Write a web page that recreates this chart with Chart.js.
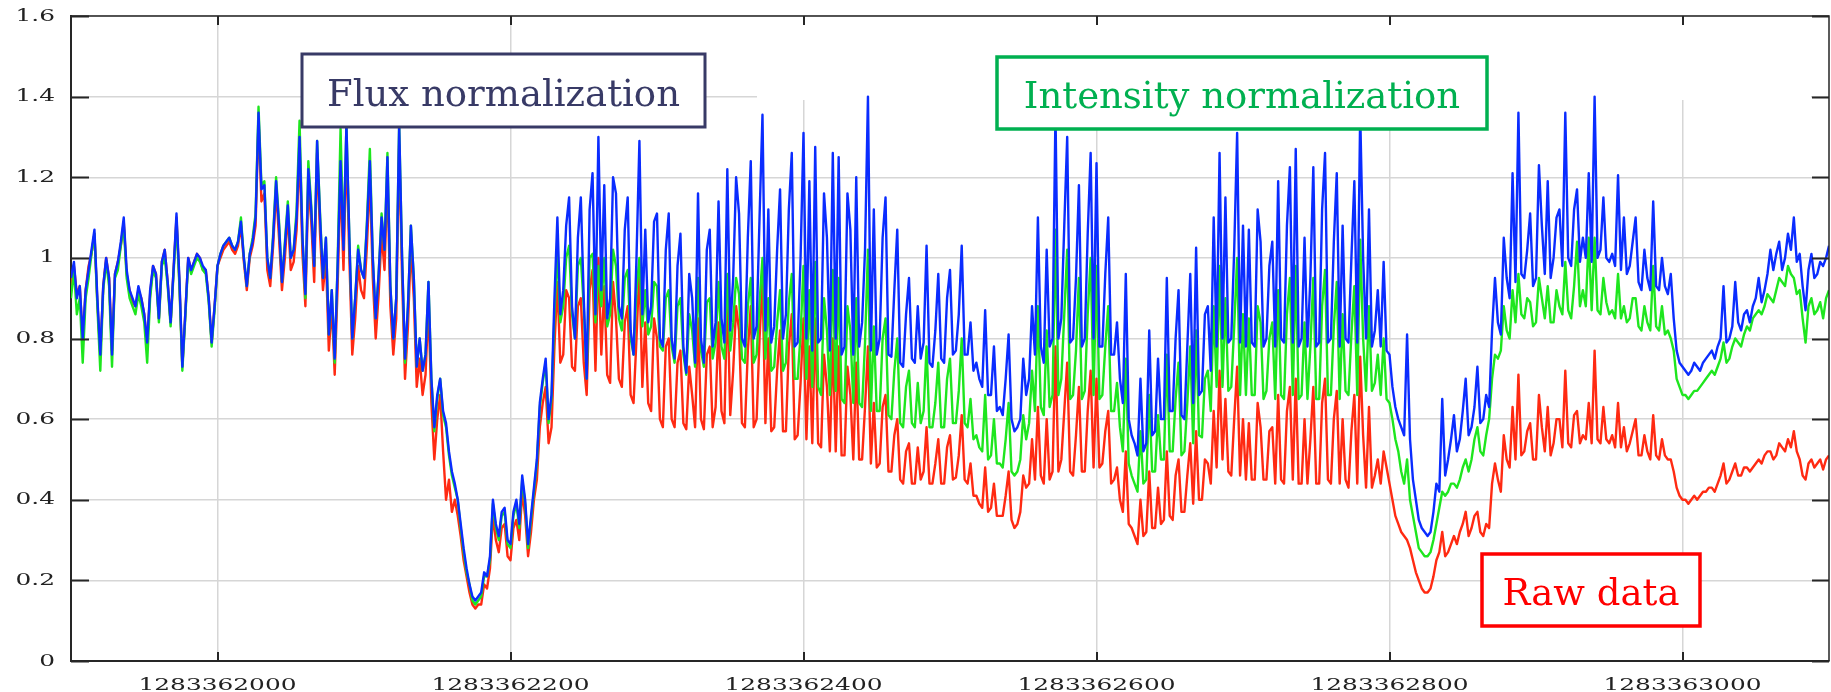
<!DOCTYPE html>
<html>
<head>
<meta charset="utf-8">
<script src="https://cdn.jsdelivr.net/npm/chart.js@4.4.1/dist/chart.umd.min.js"></script>
<style>
  html, body { margin: 0; padding: 0; background: #ffffff; }
  canvas { display: block; }
</style>
</head>
<body>
<canvas id="chart" width="1831" height="692"></canvas>
<script>
// Time axis (unix seconds), sampled every 2 s
const T_START = 1283361900;
const T_END = 1283363100;
const T_STEP = 2;

const xTickValues = [1283362000, 1283362200, 1283362400, 1283362600, 1283362800, 1283363000];
const yTickValues = [0, 0.2, 0.4, 0.6, 0.8, 1, 1.2, 1.4, 1.6];

// Flux-normalized signal (blue)
const fluxNormalized = [
  0.95,0.99,0.90,0.93,0.80,0.92,0.97,1.02,1.07,0.90,
  0.76,0.93,1.00,0.95,0.76,0.96,0.99,1.04,1.10,0.97,
  0.92,0.90,0.88,0.93,0.90,0.86,0.79,0.92,0.98,0.96,
  0.85,0.99,1.02,0.94,0.84,0.97,1.11,0.95,0.73,0.86,
  1.00,0.97,0.99,1.01,1.00,0.98,0.97,0.90,0.79,0.88,
  0.98,1.01,1.03,1.04,1.05,1.03,1.02,1.04,1.09,1.00,
  0.93,1.01,1.04,1.10,1.36,1.17,1.18,1.00,0.95,1.05,
  1.19,1.08,0.94,1.03,1.13,1.00,1.02,1.10,1.30,1.05,
  0.91,1.22,1.12,0.98,1.29,1.10,0.95,1.05,0.81,0.92,
  0.75,0.98,1.24,1.02,1.33,1.05,0.80,0.90,1.02,0.97,
  0.95,1.08,1.24,1.00,0.85,0.96,1.10,1.02,1.25,0.93,
  0.80,0.90,1.33,1.00,0.75,0.88,1.08,0.95,0.73,0.80,
  0.72,0.76,0.94,0.70,0.58,0.66,0.70,0.62,0.59,0.52,
  0.47,0.44,0.40,0.34,0.28,0.23,0.19,0.16,0.15,0.16,
  0.17,0.22,0.21,0.26,0.40,0.34,0.31,0.37,0.38,0.30,
  0.29,0.37,0.40,0.34,0.46,0.40,0.29,0.36,0.43,0.50,
  0.64,0.70,0.75,0.60,0.66,0.90,1.10,0.86,0.92,1.08,
  1.15,0.88,0.80,1.05,1.15,0.90,0.70,1.12,1.21,0.86,
  1.30,0.92,1.18,0.85,0.90,1.20,1.16,0.88,0.85,1.07,
  1.15,0.82,0.76,1.00,1.29,0.86,1.07,0.84,0.88,1.09,
  1.11,0.80,0.78,1.02,1.11,0.80,0.75,0.98,1.06,0.78,
  0.715,0.96,0.90,0.74,1.16,0.80,0.74,1.02,1.07,0.78,
  0.84,1.14,0.85,0.79,1.22,0.82,0.95,1.20,1.11,0.80,
  0.78,1.05,1.24,0.80,0.83,1.10,1.355,0.82,1.12,0.79,
  0.83,1.02,1.17,0.80,0.86,1.12,1.26,0.78,0.79,1.00,
  1.31,0.80,1.19,0.77,1.275,0.79,0.80,1.16,1.05,0.77,
  1.26,0.80,1.25,0.76,0.78,1.16,1.07,0.76,1.20,0.78,
  0.84,1.02,1.40,0.77,1.12,0.76,0.80,1.05,1.15,0.76,
  0.755,0.92,1.07,0.74,0.73,0.86,0.95,0.75,0.74,0.88,
  0.75,0.79,1.03,0.74,0.73,0.82,0.96,0.75,0.74,0.90,
  0.97,0.76,0.77,0.86,1.03,0.76,0.76,0.84,0.72,0.74,
  0.70,0.68,0.87,0.66,0.66,0.78,0.62,0.63,0.61,0.70,
  0.81,0.60,0.57,0.58,0.60,0.75,0.66,0.70,0.88,0.76,
  1.10,0.78,0.74,1.02,0.78,0.80,1.36,0.80,0.85,1.08,
  1.30,0.79,0.80,0.95,1.18,0.78,0.80,1.06,1.26,0.80,
  1.235,0.78,0.78,0.96,1.10,0.76,0.76,0.84,0.70,0.64,
  0.96,0.60,0.56,0.54,0.51,0.70,0.52,0.54,0.82,0.56,
  0.57,0.75,0.60,0.60,0.95,0.62,0.62,0.80,0.92,0.61,
  0.60,0.78,0.96,0.64,1.025,0.66,0.67,0.86,0.88,0.72,
  1.10,0.78,1.26,0.80,1.15,0.79,0.80,1.02,1.31,0.79,
  1.08,0.78,1.07,0.79,0.78,1.12,1.04,0.78,0.80,0.98,
  1.04,0.78,1.19,0.80,0.79,1.08,1.225,0.79,1.27,0.78,
  0.80,1.05,0.78,0.95,1.225,0.78,0.79,1.12,1.26,0.79,
  0.80,1.04,1.21,0.78,1.08,0.80,0.79,1.00,1.19,0.79,
  1.36,1.00,0.80,1.12,0.78,0.82,0.92,0.78,0.99,0.77,
  0.76,0.68,0.63,0.60,0.58,0.56,0.81,0.55,0.45,0.40,
  0.35,0.33,0.32,0.31,0.32,0.37,0.44,0.42,0.65,0.46,
  0.50,0.55,0.61,0.52,0.55,0.62,0.70,0.56,0.58,0.63,
  0.73,0.59,0.60,0.66,0.63,0.82,0.95,0.84,0.81,1.05,
  0.95,0.90,1.21,0.94,1.36,0.96,0.95,1.02,1.11,0.93,
  0.95,1.23,1.08,0.96,1.19,0.95,1.00,1.10,1.12,0.98,
  1.36,1.00,0.98,1.12,1.17,0.99,1.05,1.00,1.21,0.99,
  1.40,1.00,1.02,1.15,1.00,0.99,1.01,0.98,1.205,0.97,
  1.10,0.96,0.98,1.04,1.10,0.94,0.92,1.02,0.95,0.92,
  1.14,0.93,0.92,1.00,0.93,0.91,0.96,0.85,0.77,0.74,
  0.73,0.72,0.71,0.72,0.74,0.73,0.72,0.74,0.75,0.76,
  0.77,0.75,0.78,0.80,0.93,0.79,0.80,0.83,0.94,0.84,
  0.82,0.86,0.87,0.84,0.88,0.90,0.95,0.89,0.92,0.96,
  1.02,0.97,1.01,1.04,0.97,1.00,1.06,1.02,1.10,0.99,
  1.01,0.93,0.87,0.97,1.01,0.95,0.96,0.99,0.98,1.00,
  1.03
];

// Intensity-normalized signal (green)
const intensityNormalized = [
  0.90,0.97,0.86,0.90,0.74,0.90,0.95,1.01,1.06,0.88,
  0.72,0.92,0.99,0.93,0.73,0.95,0.97,1.03,1.08,0.95,
  0.90,0.88,0.86,0.91,0.88,0.84,0.74,0.90,0.97,0.95,
  0.84,0.98,1.00,0.93,0.83,0.96,1.09,0.93,0.72,0.85,
  0.99,0.96,0.98,1.00,0.99,0.97,0.96,0.89,0.78,0.87,
  0.98,1.01,1.03,1.04,1.05,1.03,1.02,1.04,1.10,1.00,
  0.93,1.01,1.05,1.11,1.375,1.18,1.19,1.00,0.95,1.06,
  1.20,1.09,0.94,1.04,1.14,1.00,1.02,1.12,1.34,1.05,
  0.90,1.24,1.13,0.98,1.29,1.11,0.95,1.05,0.81,0.92,
  0.74,0.99,1.32,1.03,1.33,1.05,0.80,0.90,1.03,0.97,
  0.95,1.09,1.27,1.00,0.85,0.96,1.11,1.02,1.26,0.93,
  0.80,0.90,1.33,1.00,0.74,0.88,1.08,0.95,0.73,0.80,
  0.72,0.76,0.94,0.70,0.57,0.65,0.70,0.61,0.58,0.51,
  0.46,0.43,0.40,0.33,0.27,0.22,0.19,0.15,0.14,0.15,
  0.16,0.21,0.21,0.25,0.39,0.33,0.30,0.36,0.37,0.29,
  0.28,0.36,0.39,0.33,0.45,0.39,0.28,0.35,0.42,0.49,
  0.63,0.69,0.74,0.59,0.65,0.86,1.02,0.84,0.88,1.00,
  1.03,0.86,0.80,0.98,1.00,0.88,0.70,1.00,1.01,0.84,
  0.98,0.88,1.00,0.83,0.86,1.02,0.98,0.85,0.82,0.95,
  0.97,0.80,0.76,0.92,1.00,0.83,0.92,0.81,0.83,0.94,
  0.93,0.78,0.77,0.90,0.92,0.78,0.74,0.88,0.90,0.76,
  0.71,0.86,0.82,0.73,0.95,0.77,0.73,0.89,0.90,0.75,
  0.79,0.94,0.78,0.75,0.96,0.77,0.84,0.95,0.91,0.75,
  0.74,0.88,0.95,0.74,0.76,0.89,1.00,0.75,0.90,0.72,
  0.73,0.84,0.92,0.72,0.74,0.89,0.96,0.70,0.70,0.81,
  0.98,0.70,0.92,0.68,0.99,0.68,0.66,0.90,0.82,0.66,
  0.97,0.67,0.95,0.65,0.64,0.88,0.82,0.64,0.90,0.64,
  0.63,0.79,1.02,0.62,0.83,0.62,0.62,0.80,0.85,0.61,
  0.60,0.72,0.80,0.59,0.58,0.68,0.72,0.59,0.58,0.69,
  0.59,0.62,0.78,0.58,0.58,0.64,0.74,0.58,0.58,0.70,
  0.75,0.59,0.59,0.67,0.80,0.59,0.58,0.65,0.55,0.56,
  0.53,0.52,0.66,0.50,0.51,0.60,0.49,0.49,0.48,0.55,
  0.64,0.47,0.46,0.47,0.50,0.61,0.55,0.59,0.72,0.62,
  0.88,0.63,0.61,0.82,0.63,0.66,1.07,0.66,0.70,0.86,
  1.02,0.65,0.66,0.77,0.95,0.65,0.67,0.86,1.00,0.66,
  0.98,0.65,0.66,0.78,0.88,0.62,0.62,0.69,0.58,0.52,
  0.75,0.49,0.46,0.44,0.42,0.57,0.44,0.45,0.66,0.47,
  0.47,0.61,0.50,0.50,0.76,0.52,0.52,0.65,0.74,0.51,
  0.52,0.64,0.78,0.54,0.82,0.56,0.555,0.70,0.72,0.62,
  0.88,0.68,0.98,0.68,0.90,0.67,0.68,0.83,1.00,0.66,
  0.86,0.66,0.85,0.66,0.66,0.88,0.84,0.65,0.67,0.80,
  0.84,0.65,0.92,0.66,0.65,0.86,0.95,0.66,0.98,0.65,
  0.66,0.84,0.65,0.78,0.95,0.65,0.65,0.88,0.97,0.66,
  0.66,0.83,0.94,0.65,0.86,0.67,0.66,0.81,0.93,0.66,
  1.045,0.80,0.67,0.88,0.67,0.69,0.76,0.66,0.80,0.65,
  0.64,0.60,0.55,0.52,0.47,0.44,0.50,0.40,0.36,0.32,
  0.28,0.27,0.26,0.26,0.27,0.30,0.34,0.38,0.42,0.41,
  0.42,0.44,0.44,0.43,0.45,0.48,0.50,0.47,0.50,0.55,
  0.58,0.52,0.51,0.56,0.60,0.70,0.76,0.75,0.77,0.88,
  0.82,0.80,0.92,0.84,0.96,0.86,0.85,0.90,0.89,0.83,
  0.84,0.95,0.90,0.85,0.93,0.84,0.84,0.92,0.88,0.86,
  0.99,0.87,0.85,0.93,1.04,0.88,0.92,0.88,1.05,0.87,
  1.05,0.87,0.86,0.95,0.89,0.86,0.87,0.85,0.96,0.85,
  0.88,0.84,0.85,0.90,0.90,0.83,0.82,0.88,0.84,0.82,
  0.98,0.83,0.82,0.88,0.81,0.82,0.80,0.77,0.70,0.68,
  0.66,0.66,0.65,0.66,0.67,0.67,0.68,0.69,0.70,0.71,
  0.72,0.71,0.73,0.75,0.79,0.74,0.75,0.78,0.80,0.79,
  0.78,0.81,0.83,0.82,0.85,0.86,0.87,0.86,0.88,0.91,
  0.90,0.89,0.92,0.95,0.94,0.93,0.98,0.96,0.95,0.91,
  0.92,0.85,0.79,0.88,0.90,0.86,0.87,0.89,0.85,0.90,
  0.92
];

// Raw signal (red)
const rawData = [
  0.93,0.98,0.91,0.93,0.80,0.92,0.98,1.01,1.06,0.89,
  0.76,0.93,1.00,0.95,0.77,0.96,0.99,1.03,1.09,0.96,
  0.92,0.89,0.88,0.92,0.90,0.86,0.79,0.91,0.98,0.96,
  0.85,0.99,1.02,0.94,0.84,0.97,1.10,0.94,0.73,0.86,
  1.00,0.97,0.99,1.01,1.00,0.97,0.97,0.90,0.79,0.88,
  0.98,1.00,1.02,1.03,1.04,1.02,1.01,1.03,1.08,0.99,
  0.92,1.00,1.03,1.08,1.34,1.14,1.16,0.97,0.93,1.03,
  1.17,1.05,0.92,1.00,1.11,0.97,0.99,1.07,1.27,1.01,
  0.88,1.18,1.09,0.94,1.26,1.06,0.92,1.00,0.77,0.88,
  0.71,0.93,1.20,0.97,1.28,1.00,0.76,0.85,0.98,0.92,
  0.90,1.03,1.20,0.95,0.80,0.91,1.06,0.97,1.20,0.88,
  0.76,0.85,1.28,0.95,0.70,0.83,1.03,0.90,0.68,0.75,
  0.66,0.71,0.88,0.64,0.50,0.60,0.66,0.52,0.40,0.45,
  0.37,0.40,0.36,0.31,0.25,0.21,0.17,0.14,0.13,0.14,
  0.14,0.19,0.18,0.23,0.36,0.30,0.27,0.33,0.34,0.26,
  0.25,0.33,0.35,0.30,0.42,0.36,0.26,0.32,0.40,0.45,
  0.58,0.64,0.68,0.54,0.58,0.78,0.94,0.74,0.76,0.92,
  0.90,0.73,0.72,0.88,0.90,0.74,0.66,0.92,0.97,0.72,
  1.00,0.76,0.93,0.71,0.69,0.94,0.85,0.70,0.68,0.84,
  0.88,0.66,0.64,0.80,0.98,0.68,0.84,0.64,0.62,0.85,
  0.80,0.60,0.58,0.78,0.80,0.60,0.58,0.74,0.77,0.59,
  0.575,0.73,0.66,0.58,0.85,0.60,0.575,0.76,0.78,0.58,
  0.63,0.84,0.62,0.59,0.92,0.61,0.72,0.88,0.82,0.59,
  0.58,0.77,0.88,0.58,0.60,0.80,0.95,0.59,0.80,0.57,
  0.58,0.72,0.82,0.57,0.57,0.78,0.86,0.55,0.56,0.69,
  0.85,0.55,0.78,0.54,0.85,0.54,0.53,0.76,0.68,0.52,
  0.80,0.52,0.78,0.51,0.51,0.73,0.66,0.50,0.74,0.50,
  0.50,0.63,0.78,0.49,0.64,0.48,0.49,0.63,0.66,0.47,
  0.47,0.56,0.60,0.45,0.44,0.52,0.54,0.44,0.44,0.53,
  0.45,0.47,0.58,0.44,0.44,0.49,0.55,0.44,0.44,0.53,
  0.56,0.45,0.455,0.51,0.61,0.45,0.44,0.49,0.41,0.41,
  0.39,0.38,0.48,0.37,0.38,0.44,0.36,0.36,0.36,0.41,
  0.47,0.35,0.33,0.34,0.37,0.46,0.43,0.44,0.55,0.45,
  0.63,0.46,0.44,0.60,0.45,0.47,0.78,0.47,0.50,0.62,
  0.74,0.47,0.46,0.56,0.68,0.47,0.47,0.62,0.72,0.48,
  0.70,0.48,0.49,0.57,0.62,0.44,0.45,0.48,0.40,0.37,
  0.52,0.34,0.33,0.31,0.29,0.40,0.31,0.32,0.47,0.33,
  0.33,0.43,0.34,0.35,0.52,0.36,0.35,0.46,0.50,0.37,
  0.37,0.46,0.54,0.39,0.57,0.40,0.40,0.50,0.49,0.44,
  0.62,0.48,0.72,0.50,0.65,0.47,0.46,0.60,0.73,0.46,
  0.60,0.45,0.59,0.45,0.45,0.64,0.58,0.45,0.45,0.57,
  0.58,0.44,0.66,0.45,0.44,0.62,0.68,0.45,0.70,0.44,
  0.44,0.60,0.44,0.55,0.68,0.44,0.44,0.64,0.70,0.45,
  0.44,0.60,0.67,0.44,0.60,0.45,0.43,0.57,0.66,0.44,
  0.755,0.56,0.43,0.63,0.43,0.46,0.50,0.44,0.52,0.48,
  0.44,0.40,0.36,0.34,0.32,0.31,0.30,0.28,0.25,0.22,
  0.20,0.18,0.17,0.17,0.18,0.21,0.25,0.27,0.32,0.26,
  0.27,0.29,0.31,0.29,0.32,0.34,0.37,0.31,0.33,0.36,
  0.37,0.32,0.31,0.34,0.33,0.44,0.49,0.45,0.42,0.56,
  0.50,0.48,0.63,0.50,0.71,0.51,0.52,0.57,0.59,0.50,
  0.50,0.66,0.58,0.52,0.63,0.51,0.54,0.60,0.60,0.53,
  0.72,0.54,0.53,0.61,0.62,0.54,0.56,0.55,0.64,0.54,
  0.77,0.55,0.54,0.63,0.55,0.54,0.56,0.53,0.64,0.53,
  0.58,0.52,0.54,0.57,0.60,0.51,0.51,0.56,0.52,0.50,
  0.61,0.51,0.50,0.55,0.51,0.50,0.50,0.47,0.43,0.41,
  0.40,0.40,0.39,0.40,0.41,0.40,0.41,0.42,0.42,0.43,
  0.43,0.42,0.44,0.46,0.49,0.44,0.45,0.47,0.49,0.46,
  0.46,0.48,0.48,0.47,0.48,0.49,0.50,0.49,0.51,0.52,
  0.52,0.50,0.51,0.54,0.53,0.52,0.55,0.53,0.57,0.52,
  0.50,0.46,0.45,0.49,0.50,0.48,0.49,0.50,0.475,0.50,
  0.51
];

const sampleTimes = fluxNormalized.map((_, i) => T_START + i * T_STEP);
const toPoints = vals => vals.map((v, i) => ({ x: sampleTimes[i], y: v }));

// Annotation boxes drawn on top of the plot
const annotations = [
  { text: 'Flux normalization',      color: 'rgb(56,58,102)', box: [302, 54, 403, 73], base: 106, lw: 3 },
  { text: 'Intensity normalization', color: 'rgb(0,176,80)',  box: [997, 57, 490, 72], base: 108, lw: 3.5 },
  { text: 'Raw data',                color: 'rgb(255,0,0)',   box: [1482, 554, 218, 72], base: 605, lw: 3.5 }
];

const AXIS_COLOR = '#262626';
const LABEL_FONT = '17.5px "DejaVu Serif", serif';
const LABEL_STRETCH = 1.42;

function stretchedText(ctx, text, x, y, align) {
  ctx.save();
  ctx.translate(x, y);
  ctx.scale(LABEL_STRETCH, 1);
  ctx.textAlign = align;
  ctx.textBaseline = 'middle';
  ctx.fillText(text, 0, 0);
  ctx.restore();
}

const framePlugin = {
  id: 'framePlugin',
  beforeDatasetsDraw(chart) {
    // blank band across the upper plot region
    const { ctx } = chart;
    ctx.save();
    ctx.fillStyle = '#ffffff';
    ctx.fillRect(757, 17, 1054, 83);
    ctx.restore();
  },
  afterDatasetsDraw(chart) {
    const { ctx } = chart;
    ctx.save();
    for (const a of annotations) {
      const [x, y, w, h] = a.box;
      ctx.fillStyle = '#ffffff';
      ctx.fillRect(x, y, w, h);
      ctx.lineWidth = a.lw;
      ctx.strokeStyle = a.color;
      ctx.strokeRect(x, y, w, h);
      ctx.fillStyle = a.color;
      ctx.font = '37px "DejaVu Serif", serif';
      ctx.textAlign = 'center';
      ctx.textBaseline = 'alphabetic';
      ctx.fillText(a.text, x + w / 2, a.base);
    }
    ctx.restore();
  },
  afterDraw(chart) {
    const { ctx, chartArea: area, scales } = chart;
    const xs = scales.x, ys = scales.y;
    ctx.save();
    ctx.strokeStyle = AXIS_COLOR;
    // top and right frame
    ctx.lineWidth = 1.5;
    ctx.beginPath();
    ctx.moveTo(area.left, area.top);
    ctx.lineTo(area.right, area.top);
    ctx.lineTo(area.right, area.bottom);
    ctx.stroke();
    // inward tick marks
    ctx.lineWidth = 2;
    ctx.beginPath();
    for (const v of yTickValues) {
      const py = Math.round(ys.getPixelForValue(v)) + 0.5;
      ctx.moveTo(area.left, py); ctx.lineTo(area.left + 18, py);
      ctx.moveTo(area.right, py); ctx.lineTo(area.right - 17, py);
    }
    for (const v of xTickValues) {
      const px = Math.round(xs.getPixelForValue(v));
      ctx.moveTo(px, area.bottom); ctx.lineTo(px, area.bottom - 9);
      ctx.moveTo(px, area.top); ctx.lineTo(px, area.top + 9);
    }
    ctx.stroke();
    // tick labels
    ctx.fillStyle = '#222222';
    ctx.font = LABEL_FONT;
    for (const v of yTickValues) {
      stretchedText(ctx, String(v), area.left - 16, ys.getPixelForValue(v), 'right');
    }
    for (const v of xTickValues) {
      stretchedText(ctx, String(v), xs.getPixelForValue(v), area.bottom + 24, 'center');
    }
    ctx.restore();
  }
};

const gridStyle = { color: '#d6d6d6', lineWidth: 1.5, drawTicks: false };

new Chart(document.getElementById('chart'), {
  type: 'line',
  data: {
    datasets: [
      { label: 'Flux normalization', data: toPoints(fluxNormalized), borderColor: '#0a2cff' },
      { label: 'Intensity normalization', data: toPoints(intensityNormalized), borderColor: '#1ee61e' },
      { label: 'Raw data', data: toPoints(rawData), borderColor: '#ff2a12' }
    ]
  },
  options: {
    responsive: false,
    animation: false,
    devicePixelRatio: 1,
    layout: { padding: { left: 71, top: 16, right: 2, bottom: 31 } },
    elements: {
      point: { radius: 0 },
      line: { tension: 0, borderWidth: 2.4, borderJoinStyle: 'round' }
    },
    plugins: { legend: { display: false }, tooltip: { enabled: false } },
    scales: {
      x: {
        type: 'linear', min: T_START, max: T_END,
        afterBuildTicks: s => { s.ticks = xTickValues.map(v => ({ value: v })); },
        ticks: { display: false },
        grid: gridStyle,
        border: { color: AXIS_COLOR, width: 2 }
      },
      y: {
        type: 'linear', min: 0, max: 1.6,
        afterBuildTicks: s => { s.ticks = yTickValues.map(v => ({ value: v })); },
        ticks: { display: false },
        grid: gridStyle,
        border: { color: AXIS_COLOR, width: 2 }
      }
    }
  },
  plugins: [framePlugin]
});
</script>
</body>
</html>
